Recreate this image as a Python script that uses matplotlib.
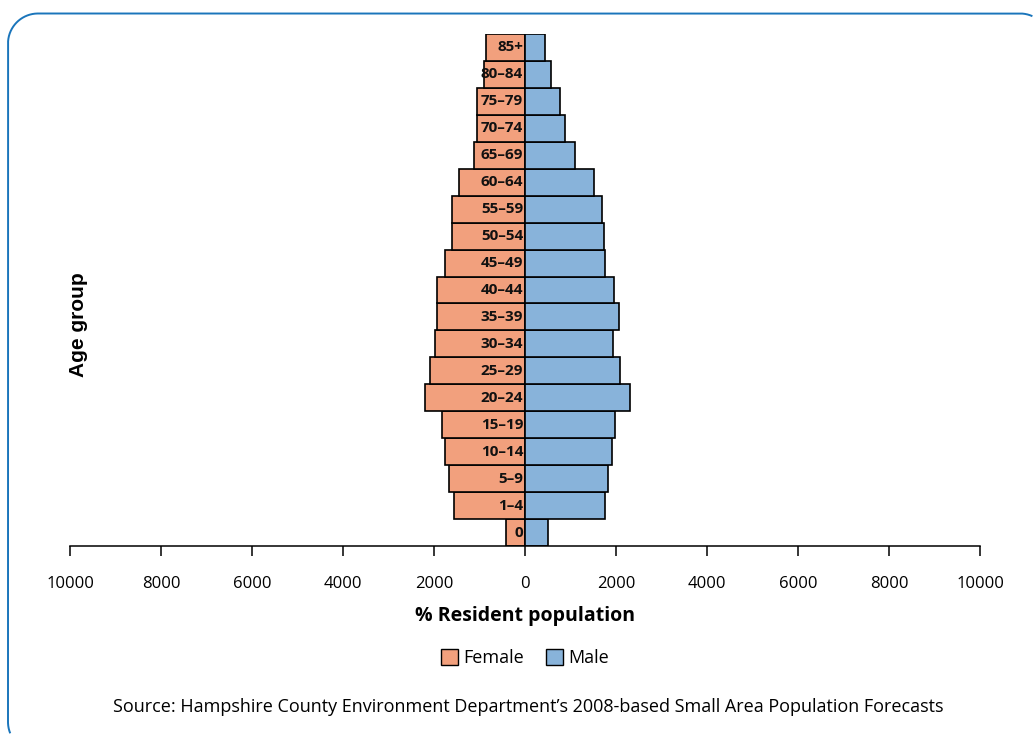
import numpy as np
import matplotlib
matplotlib.use("Agg")
import matplotlib.pyplot as plt
from matplotlib.lines import Line2D
from matplotlib.patches import Patch
from matplotlib.transforms import Affine2D

# Age groups, youngest first
age_groups = ["0", "1–4", "5–9", "10–14", "15–19", "20–24", "25–29", "30–34",
              "35–39", "40–44", "45–49", "50–54", "55–59", "60–64", "65–69",
              "70–74", "75–79", "80–84", "85+"]
female = [407, 1565, 1666, 1763, 1829, 2194, 2077, 1974, 1945, 1945, 1754,
          1609, 1609, 1446, 1116, 1051, 1051, 897, 864]
male = [516, 1769, 1820, 1908, 1974, 2303, 2092, 1938, 2062, 1952, 1754,
        1741, 1688, 1512, 1095, 884, 765, 582, 433]
x_ticks = [-10000, -8000, -6000, -4000, -2000, 0, 2000, 4000, 6000, 8000, 10000]
x_tick_labels = [str(abs(v)) for v in x_ticks]

FEMALE_COLOR = "#F2A07D"
MALE_COLOR = "#88B3DA"
FRAME_COLOR = "#1A75BB"
BODY_FONT = ["Open Sans", "DejaVu Sans"]

W, H = 1033, 734
fig = plt.figure(figsize=(W / 100, H / 100), dpi=100)


def frame_outline(x0, y0, x1, y1, r, n=200):
    """Visible part of a rounded rectangle (pixel coords, y downwards):
    bottom-left corner, left side, top-left corner, top side, top-right corner."""
    corners = [(x0 + r, y1 - r, 90, 180), (x0 + r, y0 + r, 180, 270),
               (x1 - r, y0 + r, 270, 360)]
    xs, ys = [], []
    for cx, cy, a0, a1 in corners:
        t = np.radians(np.linspace(a0, a1, n))
        for px, py in zip(cx + r * np.cos(t), cy + r * np.sin(t)):
            if px <= W - 0.5 and py <= H - 0.5:
                xs.append(px)
                ys.append(py)
    return xs, ys


# Rounded border around the whole graphic; pixel coords mapped to the figure
px_to_fig = Affine2D().scale(1 / W, -1 / H).translate(0, 1) + fig.transFigure
fx, fy = frame_outline(8, 13.5, 1050, 752, 30)
fig.add_artist(Line2D(fx, fy, transform=px_to_fig, color=FRAME_COLOR,
                      linewidth=1.4, solid_capstyle="butt"))

ax = fig.add_axes([70 / W, 1 - 546 / H, (980 - 70) / W, (546 - 34) / H])

y = list(range(len(age_groups)))
neg_female = [-v for v in female]
ax.barh(y, neg_female, height=1.0, color=FEMALE_COLOR, edgecolor="black",
        linewidth=1.2, zorder=2)
ax.barh(y, male, height=1.0, color=MALE_COLOR, edgecolor="black",
        linewidth=1.2, zorder=2)

for yi, label in zip(y, age_groups):
    ax.text(-40, yi, label, ha="right", va="center", fontsize=11,
            fontweight="bold", family=BODY_FONT, color="#111111", zorder=3)

ax.set_xlim(-10000, 10000)
ax.set_ylim(-0.5, len(age_groups) - 0.5)
ax.set_xticks(x_ticks)
ax.set_xticklabels(x_tick_labels, fontsize=12, family=BODY_FONT)
ax.set_yticks([])
for side in ("top", "right", "left"):
    ax.spines[side].set_visible(False)
ax.spines["bottom"].set_linewidth(1.1)
ax.tick_params(axis="x", length=7.5, width=1.1, pad=14, colors="black")
ax.set_xlabel("% Resident population", fontsize=14, fontweight="bold",
              family=BODY_FONT, labelpad=10)

fig.text(79 / W, 1 - 325 / H, "Age group", rotation=90, ha="center",
         va="center", fontsize=15, fontweight="bold",
         family=["Liberation Sans", "DejaVu Sans"])

handles = [Patch(facecolor=FEMALE_COLOR, edgecolor="black", label="Female"),
           Patch(facecolor=MALE_COLOR, edgecolor="black", label="Male")]
fig.legend(handles=handles, loc="center", bbox_to_anchor=(525 / W, 1 - 658 / H),
           ncol=2, frameon=False, prop={"family": BODY_FONT, "size": 13},
           handlelength=0.95, handleheight=0.95, handletextpad=0.3,
           columnspacing=1.2)

fig.text(528 / W, 1 - 707 / H,
         "Source: Hampshire County Environment Department’s 2008-based Small Area Population Forecasts",
         ha="center", va="center", fontsize=13, family=BODY_FONT)

fig.savefig("out.png", dpi=100)
